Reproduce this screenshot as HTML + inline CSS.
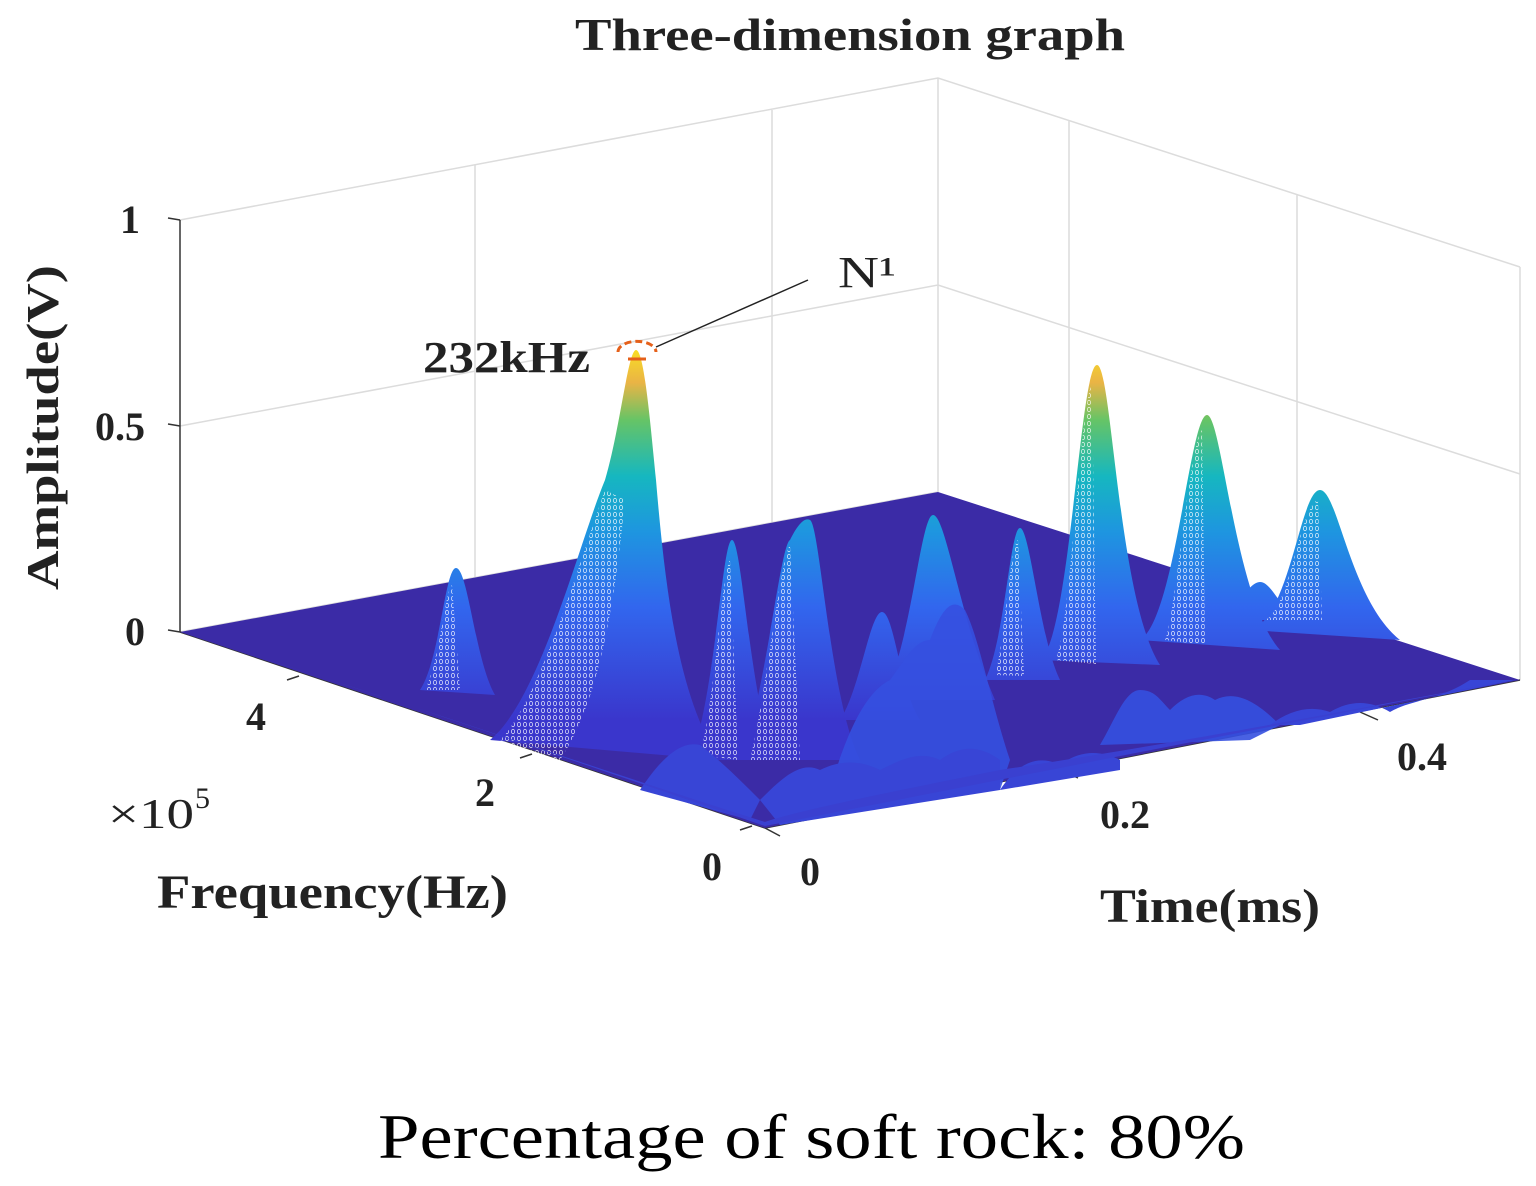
<!DOCTYPE html>
<html><head><meta charset="utf-8"><style>
html,body{margin:0;padding:0;background:#fff;}
svg{display:block;}
text{font-family:"Liberation Serif",serif;fill:#222;}
.b{font-weight:bold;}
</style></head><body>
<svg width="1536" height="1186" viewBox="0 0 1536 1186" xmlns="http://www.w3.org/2000/svg">
<defs>
<linearGradient id="g" gradientUnits="userSpaceOnUse" x1="0" y1="720" x2="0" y2="345">
<stop offset="0" stop-color="#3a36cc"/>
<stop offset="0.3" stop-color="#3266ee"/>
<stop offset="0.5" stop-color="#1e95e0"/>
<stop offset="0.65" stop-color="#16b7c0"/>
<stop offset="0.8" stop-color="#66c466"/>
<stop offset="0.9" stop-color="#eab445"/>
<stop offset="1" stop-color="#fbe31f"/>
</linearGradient>
<pattern id="m" width="6" height="7" patternUnits="userSpaceOnUse">
<ellipse cx="3" cy="3.5" rx="1.6" ry="2.2" fill="none" stroke="#fff" stroke-width="0.8"/>
</pattern>
</defs>
<g stroke="#dcdcdc" stroke-width="1.5" fill="none">
<polyline points="180,220 938,78 1520,267"/>
<polyline points="180,426 938,285 1520,474"/>
<line x1="180" y1="632" x2="938" y2="492"/>
<line x1="938" y1="78" x2="938" y2="492"/>
<line x1="475" y1="165" x2="475" y2="580"/>
<line x1="772" y1="110" x2="772" y2="525"/>
<line x1="1069" y1="120" x2="1069" y2="535"/>
<line x1="1297" y1="195" x2="1297" y2="608"/>
<line x1="1520" y1="267" x2="1520" y2="680"/>
</g>
<g stroke="#333" stroke-width="1.5">
<line x1="180" y1="220" x2="180" y2="632"/>
<line x1="168" y1="218" x2="180" y2="220"/>
<line x1="168" y1="424" x2="180" y2="426"/>
<line x1="168" y1="630" x2="180" y2="632"/>
<line x1="765" y1="828" x2="1520" y2="680"/>
<line x1="180" y1="632" x2="765" y2="828"/>
<line x1="765" y1="828" x2="780" y2="836"/>
<line x1="1060" y1="770" x2="1078" y2="778"/>
<line x1="1360" y1="712" x2="1378" y2="720"/>
<line x1="287" y1="680" x2="299" y2="676"/>
<line x1="520" y1="758" x2="532" y2="754"/>
<line x1="740" y1="830" x2="752" y2="826"/>
</g>
<polygon points="180,632 938,492 1520,680 765,828" fill="#3b2ba6"/>
<g fill="url(#g)">
<path d="M1200,620 C1240,610 1248,582 1260,582 C1272,582 1280,610 1300,620Z"/>
<path d="M1250,630 C1290,620 1300,490 1320,490 C1338,490 1350,600 1400,640Z"/>
<path d="M1140,640 C1175,620 1190,415 1207,415 C1222,415 1235,600 1280,650Z"/>
<path d="M1040,660 C1070,640 1080,365 1097,365 C1112,365 1118,600 1160,665Z"/>
<path d="M985,680 C1005,640 1010,528 1020,528 C1030,528 1040,640 1060,680Z"/>
<path d="M880,700 C910,660 920,515 933,515 C946,515 960,620 995,700Z"/>
<path d="M840,720 C860,690 870,612 882,612 C894,612 900,690 920,720Z"/>
<path d="M420,690 C440,660 445,568 456,568 C468,568 475,660 495,695Z"/>
<path d="M740,760 C765,700 780,545 790,540 C800,520 806,518 810,520 C820,525 830,700 860,760Z"/>
<path d="M690,760 C715,700 722,540 732,540 C742,540 750,700 775,760Z"/>
<path d="M490,740 C540,700 580,540 605,480 C620,430 628,350 636,350 C644,350 650,420 656,480 C666,600 680,700 720,760Z"/>
</g>
<g fill="url(#m)" opacity="0.8">
<path d="M500,740 C540,700 580,560 605,490 L625,500 C615,600 600,700 560,760Z"/>
<path d="M425,690 C440,660 445,590 452,585 L460,690Z"/>
<path d="M700,755 C715,700 722,570 730,560 L738,760Z"/>
<path d="M750,760 C765,700 780,560 790,545 L800,760Z"/>
<path d="M995,675 C1005,640 1010,545 1018,540 L1024,676Z"/>
<path d="M1055,660 C1070,640 1080,400 1092,385 L1096,664Z"/>
<path d="M1265,620 C1290,610 1300,505 1318,500 L1322,620Z"/>
<path d="M1165,640 C1175,620 1190,440 1202,430 L1205,645Z"/>
</g>
<!-- foreground clutter -->
<g fill="#3550e0" opacity="0.9">
<path d="M830,790 C850,720 870,690 890,680 C905,660 915,640 930,640 C945,600 955,600 965,610 C980,640 990,700 1010,760 L1000,790Z"/>
<path d="M1100,745 C1115,720 1125,690 1140,690 C1155,690 1160,700 1170,710 C1185,695 1200,690 1215,700 C1235,690 1255,700 1280,725 L1250,740Z"/>
</g>
<g fill="#3845d6">
<path d="M640,790 C660,760 680,740 700,745 C720,760 740,780 760,800 L750,820Z"/>
<path d="M760,800 C780,780 800,760 820,770 C840,760 860,760 880,770 C900,760 920,750 940,760 C960,745 980,745 1000,760 L1000,790 L780,825Z"/>
<path d="M1000,790 C1020,760 1040,755 1060,765 C1080,750 1100,750 1120,760 L1120,770 Z"/>
<path d="M1270,725 C1290,710 1310,705 1330,712 C1350,700 1370,700 1390,712 C1410,700 1440,700 1470,680 L1515,680 L1300,725Z"/>
</g>
<path d="M190,636 C400,700 600,770 765,826 C1000,780 1300,720 1515,680 C1400,700 1200,740 1000,770 C900,790 800,810 765,822 C600,770 400,700 190,636Z" fill="#3a40d0"/>
<path d="M618,352 A16,9 0 0 1 656,352" stroke="#e5601a" stroke-width="3" fill="none" stroke-dasharray="7,4"/>
<line x1="628" y1="359" x2="646" y2="359" stroke="#e5601a" stroke-width="3"/>
<line x1="656" y1="347" x2="808" y2="280" stroke="#222" stroke-width="1.5"/>
<text x="838" y="287" font-size="44" textLength="58" lengthAdjust="spacingAndGlyphs">N¹</text>
<text x="423" y="372" font-size="44" class="b" textLength="167" lengthAdjust="spacingAndGlyphs">232kHz</text>
<text x="575" y="50" font-size="46" class="b" textLength="550" lengthAdjust="spacingAndGlyphs">Three-dimension graph</text>
<text x="140" y="233" font-size="40" class="b" text-anchor="end">1</text>
<text x="145" y="440" font-size="40" class="b" text-anchor="end">0.5</text>
<text x="145" y="645" font-size="40" class="b" text-anchor="end">0</text>
<text transform="translate(58,590) rotate(-90)" font-size="46" class="b" textLength="325" lengthAdjust="spacingAndGlyphs">Amplitude(V)</text>
<text x="256" y="730" font-size="40" class="b" text-anchor="middle">4</text>
<text x="485" y="806" font-size="40" class="b" text-anchor="middle">2</text>
<text x="712" y="880" font-size="40" class="b" text-anchor="middle">0</text>
<text x="108" y="828" font-size="42" textLength="86" lengthAdjust="spacingAndGlyphs">×10</text><text x="195" y="808" font-size="30">5</text>
<text x="157" y="908" font-size="48" class="b" textLength="351" lengthAdjust="spacingAndGlyphs">Frequency(Hz)</text>
<text x="810" y="885" font-size="40" class="b" text-anchor="middle">0</text>
<text x="1125" y="828" font-size="40" class="b" text-anchor="middle">0.2</text>
<text x="1422" y="770" font-size="40" class="b" text-anchor="middle">0.4</text>
<text x="1100" y="922" font-size="48" class="b" textLength="220" lengthAdjust="spacingAndGlyphs">Time(ms)</text>
<text x="378" y="1158" font-size="64" textLength="867" lengthAdjust="spacingAndGlyphs" style="fill:#000">Percentage of soft rock: 80%</text>
</svg>
</body></html>
